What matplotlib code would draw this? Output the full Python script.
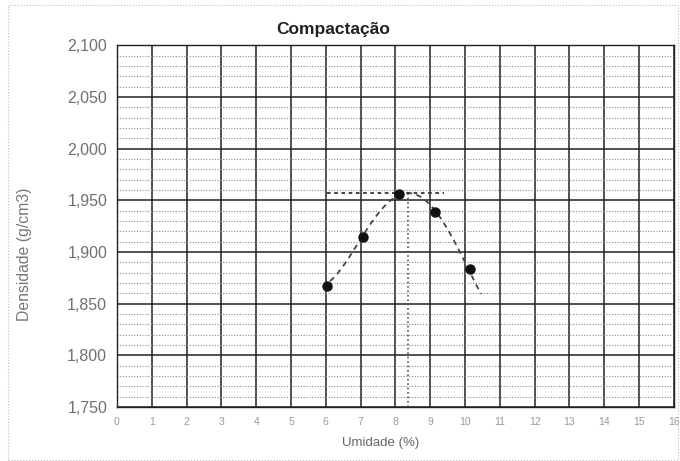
import numpy as np
import matplotlib.pyplot as plt
from matplotlib.ticker import MultipleLocator, FuncFormatter
from matplotlib.patches import Rectangle

plt.rcParams['font.family'] = ['Liberation Sans', 'DejaVu Sans']

# ensaio de compactacao
umidade = [6.04, 7.08, 8.10, 9.13, 10.14]
densidade = [1.867, 1.914, 1.956, 1.939, 1.884]

# curva de compactacao tracada
curva_x = [6.12, 6.60, 7.08, 7.57, 7.92, 8.35, 8.74, 9.13, 9.62, 10.14, 10.46]
curva_y = [1.871, 1.894, 1.915, 1.938, 1.951, 1.960, 1.954, 1.939, 1.912, 1.884, 1.858]

fig = plt.figure(figsize=(6.8, 4.61), dpi=100)
ax = fig.add_axes([0.172, 0.117, 0.819, 0.785])

# suaviza a curva
p = np.polyfit(curva_x, curva_y, 4)
xs = np.linspace(curva_x[0], curva_x[-1], 200)
ys = np.polyval(p, xs)
ax.plot(xs, ys, '--', color='#444444', lw=1.3, dashes=(3, 2.5), zorder=4)

# umidade otima / densidade maxima
i_max = np.argmax(ys)
x_max, y_max = xs[i_max], ys[i_max]
ax.plot([umidade[0], 9.4], [y_max, y_max], '--', color='#333333', lw=1.3, dashes=(2, 2), zorder=4)
ax.plot([x_max, x_max], [1.75, y_max], ':', color='#555555', lw=1.2, zorder=4)

ax.plot(umidade, densidade, 'o', color='#111111', ms=6.5, zorder=5)

ax.set_xlim(0, 16)
ax.set_ylim(1.75, 2.10)
ax.xaxis.set_major_locator(MultipleLocator(1))
ax.yaxis.set_major_locator(MultipleLocator(0.05))
ax.yaxis.set_minor_locator(MultipleLocator(0.01))
ax.yaxis.set_major_formatter(FuncFormatter(lambda v, pos: ('%.3f' % v).replace('.', ',')))

ax.grid(which='major', axis='both', color='#222222', lw=1.1)
ax.grid(which='minor', axis='y', color='#888888', lw=0.8, ls=(0, (1, 1.5)))
ax.set_axisbelow(True)
for s in ax.spines.values():
    s.set_color('#222222')
    s.set_linewidth(1.0)

ax.tick_params(which='both', length=0)
ax.tick_params(axis='y', labelsize=11.5, labelcolor='#707070', pad=7)
ax.tick_params(axis='x', labelsize=7.5, labelcolor='#999999', pad=7)

fig.text(0.49, 0.935, 'Compactação', ha='center', va='center', fontsize=12.5,
         fontweight='bold', color='#222222')
ax.set_ylabel('Densidade (g/cm3)', fontsize=11.3, color='#777777', labelpad=20)
ax.yaxis.set_label_coords(-0.152, 0.423)
ax.set_xlabel('Umidade (%)', fontsize=9.5, color='#666666', labelpad=11)
ax.xaxis.set_label_coords(0.474, -0.083)

# moldura da area do grafico
fig.patches.append(Rectangle((0.012, 0.003), 0.985, 0.986, transform=fig.transFigure,
                             fill=False, ec='#bbbbbb', lw=0.8, ls=':'))

fig.savefig('out.png', dpi=100)
